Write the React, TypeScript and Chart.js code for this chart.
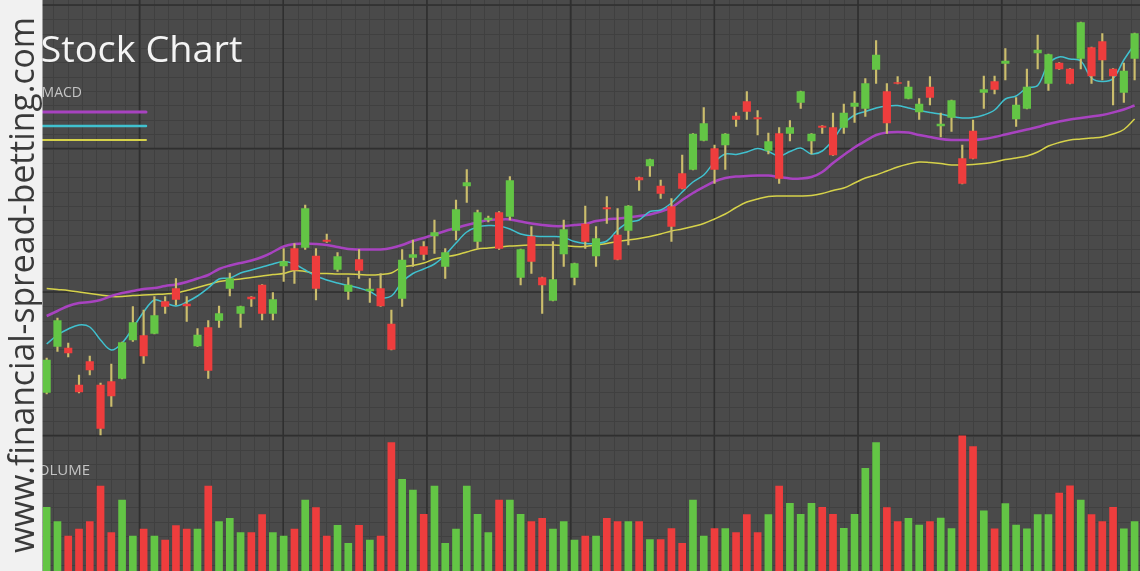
import React, { useEffect, useRef } from 'react';
import { Chart, registerables } from 'chart.js';

Chart.register(...registerables);

// ---- Data ----
const OPEN = [
  71.5, 80.7, 80.4, 73.0, 77.7, 73.0, 73.7, 74.3, 82.0, 82.9,
  83.3, 89.7, 92.3, 89.2, 80.8, 84.5, 85.9, 92.3, 87.3, 90.6,
  93.0, 87.3, 96.8, 100.3, 100.5, 98.8, 102.0, 96.1, 91.7, 98.1,
  91.8, 92.3, 85.2, 90.3, 98.5, 100.7, 102.8, 96.7, 103.9, 112.8,
  101.7, 106.0, 107.5, 106.7, 94.5, 102.7, 94.5, 89.9, 99.2, 94.5,
  105.2, 98.8, 108.5, 103.0, 103.9, 114.5, 116.8, 112.8, 108.7, 115.3,
  116.1, 121.9, 120.3, 121.0, 126.8, 129.7, 126.5, 119.9, 123.3, 123.3,
  129.5, 121.8, 124.8, 124.5, 124.5, 128.7, 128.3, 136.1, 131.7, 133.5,
  130.3, 127.6, 132.6, 124.8, 126.5, 118.3, 123.8, 131.5, 133.7, 137.3,
  126.2, 128.3, 139.4, 133.3, 137.4, 136.2, 138.3, 140.5, 141.7, 136.2,
  131.5, 138.3,
];
const HIGH = [
  78.4, 86.4, 81.4, 75.0, 78.8, 73.4, 77.2, 81.6, 88.7, 88.0,
  90.7, 90.7, 94.3, 90.7, 84.3, 85.9, 88.8, 95.4, 88.8, 90.7,
  93.1, 91.5, 100.3, 101.3, 109.0, 100.3, 103.2, 99.5, 94.5, 100.1,
  94.3, 95.3, 88.0, 100.1, 102.0, 101.7, 106.0, 100.3, 110.0, 116.1,
  108.0, 106.8, 107.7, 114.7, 100.2, 104.7, 94.6, 101.7, 106.0, 97.4,
  108.8, 104.7, 110.7, 108.3, 108.9, 114.6, 118.2, 114.0, 110.3, 119.0,
  123.3, 128.5, 121.0, 123.3, 127.5, 131.7, 127.9, 123.4, 124.5, 125.9,
  131.8, 123.3, 124.9, 127.4, 129.2, 131.7, 134.3, 141.9, 133.3, 134.7,
  133.8, 130.3, 134.7, 127.4, 130.0, 121.0, 126.0, 134.8, 134.8, 140.3,
  130.5, 136.2, 143.0, 139.2, 137.5, 136.3, 145.6, 140.6, 143.3, 136.3,
  137.4, 143.4,
];
const LOW = [
  71.2, 79.7, 78.6, 71.4, 75.0, 63.0, 68.7, 74.2, 81.7, 77.3,
  83.2, 87.3, 89.0, 85.7, 80.7, 74.3, 84.5, 90.8, 84.5, 88.7,
  86.0, 86.0, 93.7, 93.3, 100.1, 90.0, 101.5, 95.7, 90.1, 94.3,
  89.5, 88.7, 80.0, 88.7, 96.7, 98.0, 99.3, 94.3, 102.0, 109.5,
  100.3, 105.6, 100.1, 106.0, 93.0, 95.3, 87.3, 89.8, 96.7, 93.0,
  100.3, 96.7, 105.3, 98.0, 101.0, 111.9, 114.7, 110.3, 101.7, 112.2,
  116.0, 121.8, 113.3, 116.1, 124.7, 126.1, 123.0, 119.2, 113.3, 121.8,
  128.3, 119.2, 123.3, 118.9, 123.3, 125.5, 126.7, 133.3, 123.3, 133.2,
  130.2, 126.1, 129.0, 122.6, 123.7, 113.2, 118.2, 128.3, 131.2, 134.0,
  124.7, 128.2, 136.2, 131.9, 136.1, 133.2, 136.2, 133.3, 134.0, 129.0,
  129.5, 134.0,
];
const CLOSE = [
  78.0, 85.9, 79.4, 71.6, 76.0, 64.3, 70.8, 81.5, 85.5, 78.8,
  86.9, 88.7, 90.1, 88.8, 83.0, 75.9, 87.3, 94.3, 88.7, 90.2,
  87.3, 90.1, 97.7, 96.0, 108.3, 92.3, 101.7, 98.7, 93.0, 95.9,
  92.2, 88.8, 80.1, 98.0, 99.1, 99.1, 103.5, 99.5, 108.1, 113.5,
  107.5, 106.4, 100.3, 113.9, 100.1, 97.7, 93.0, 94.1, 104.1, 97.3,
  101.7, 102.3, 108.2, 98.1, 108.8, 114.0, 118.1, 111.3, 104.7, 112.3,
  123.2, 125.3, 116.1, 123.2, 126.1, 127.7, 126.2, 121.7, 114.3, 124.5,
  131.7, 123.2, 124.5, 119.0, 127.4, 129.4, 133.3, 139.0, 125.4, 133.3,
  132.6, 129.2, 130.5, 125.2, 129.9, 113.3, 118.3, 132.1, 132.1, 137.8,
  129.0, 132.6, 140.0, 139.1, 136.2, 133.3, 145.5, 134.8, 138.0, 134.8,
  135.8, 143.3,
];
const VOLUME = [
  1274, 986, 700, 840, 986, 1700, 766, 1420, 700, 840,
  700, 620, 906, 840, 840, 1700, 986, 1054, 766, 766,
  1130, 766, 700, 840, 1420, 1266, 700, 914, 554, 914,
  620, 700, 2566, 1834, 1620, 1134, 1700, 554, 840, 1700,
  1134, 766, 1420, 1420, 1134, 986, 1054, 840, 986, 620,
  700, 700, 1054, 986, 986, 986, 630, 630, 850, 554,
  1420, 700, 850, 850, 766, 1130, 766, 1130, 1700, 1354,
  1134, 1354, 1274, 1134, 854, 1134, 2054, 2566, 1270, 986,
  1054, 916, 986, 1056, 846, 2704, 2490, 1202, 844, 1346,
  916, 844, 1130, 1130, 1560, 1704, 1416, 1130, 988, 1274,
  844, 988,
];
const MA_MAGENTA = [
  86.8, 87.8, 88.8, 89.4, 89.6, 90.0, 90.8, 91.4, 91.8, 92.2,
  92.4, 92.8, 93.1, 93.6, 94.3, 95.0, 96.2, 96.9, 97.4, 97.9,
  98.6, 99.6, 100.7, 101.2, 101.3, 101.2, 101.0, 100.6, 100.2, 100.1,
  100.1, 100.1, 100.4, 101.0, 101.8, 102.4, 103.1, 103.8, 104.4, 105.0,
  105.5, 106.0, 106.1, 106.1, 105.7, 105.3, 105.0, 104.8, 104.8, 105.0,
  105.2, 105.8, 106.1, 106.3, 106.5, 106.8, 107.1, 107.7, 108.5, 110.0,
  111.4, 112.6, 113.7, 114.4, 114.7, 114.8, 114.9, 114.9, 114.6, 114.3,
  114.3, 114.6, 115.6, 117.4, 119.0, 120.5, 121.8, 123.0, 123.5, 123.6,
  123.5, 123.0, 122.6, 122.2, 122.0, 122.0, 122.0, 122.2, 122.6, 123.1,
  123.6, 124.1, 124.6, 125.2, 125.7, 126.1, 126.4, 126.7, 127.0, 127.5,
  128.1, 128.9,
];
const MA_CYAN = [
  81.2, 83.0, 84.2, 85.0, 84.6, 82.0, 80.0, 81.4, 84.4, 87.6,
  90.0, 89.4, 88.8, 89.6, 90.8, 92.4, 94.2, 94.4, 95.4, 96.0,
  96.6, 97.2, 97.7, 97.2, 96.0, 94.8, 94.0, 93.4, 92.9, 92.4,
  91.7, 90.5, 90.8, 93.6, 95.3, 96.2, 97.2, 99.0, 101.4, 103.6,
  104.6, 104.9, 104.8, 104.2, 103.2, 102.8, 102.7, 102.7, 102.5, 101.7,
  101.3, 101.3, 101.8, 104.0, 105.5, 106.0, 107.7, 108.0, 109.4, 111.6,
  113.6, 115.0, 117.6, 119.2, 119.1, 119.6, 120.3, 119.7, 118.8, 119.7,
  120.4, 119.2, 119.8, 122.0, 125.2, 127.0, 127.7, 128.4, 128.8, 128.9,
  128.4, 127.9, 127.5, 127.2, 126.7, 126.4, 126.5, 127.0, 128.0, 130.2,
  130.8, 132.4, 132.9, 137.2, 138.6, 138.2, 137.8, 134.4, 133.7, 134.3,
  138.0, 141.2,
];
const MA_YELLOW = [
  92.3, 92.1, 91.9, 91.6, 91.3, 91.0, 90.7, 90.7, 90.9, 91.0,
  91.1, 91.2, 91.4, 91.9, 92.5, 93.1, 93.7, 94.0, 94.2, 94.5,
  94.8, 95.1, 95.3, 95.9, 95.7, 95.3, 95.3, 95.2, 95.2, 95.1,
  95.0, 95.1, 95.4, 96.6, 96.9, 97.4, 98.2, 98.6, 99.0, 99.6,
  100.2, 100.4, 100.6, 100.8, 100.9, 101.0, 101.0, 101.0, 100.9, 100.7,
  100.7, 101.0, 101.3, 101.7, 102.0, 102.3, 102.7, 103.2, 103.8, 104.2,
  104.7, 105.3, 106.2, 107.2, 108.5, 109.6, 110.2, 110.7, 110.8, 110.8,
  110.8, 110.9, 111.3, 111.9, 112.4, 113.4, 114.4, 115.0, 115.8, 116.6,
  117.2, 117.6, 117.5, 117.3, 117.0, 117.0, 117.1, 117.3, 117.6, 118.1,
  118.4, 118.8, 119.6, 120.8, 121.5, 122.0, 122.2, 122.4, 122.6, 123.2,
  124.1, 126.2,
];
const DAYS = OPEN.map((_, i) => `Day ${i + 1}`);

const TITLE = 'Stock Chart';
const LEGEND_TITLE = 'MACD';
const VOLUME_TITLE = 'VOLUME';
const WATERMARK = 'www.financial-spread-betting.com';

// ---- Styles ----
const BG = '#4a4a4a';
const MINOR_GRID = '#404040';
const MAJOR_GRID = '#2f2f2f';
const UP = '#63c545';
const DOWN = '#ee3d3d';
const WICK = '#cbbd6c';
const MAGENTA = '#a843c0';
const CYAN = '#40c1cf';
const YELLOW = '#d6d24a';

const W = 1140;
const H = 571;

const backgroundPlugin = {
  id: 'bgGrid',
  beforeDraw(chart: any) {
    const { ctx } = chart;
    ctx.save();
    ctx.fillStyle = BG;
    ctx.fillRect(0, 0, W, H);
    const vx0 = 139.5, vStep = 14.37;
    const hy0 = 435.5, hStep = 14.35;
    // minor grid
    ctx.strokeStyle = MINOR_GRID;
    ctx.lineWidth = 1;
    ctx.beginPath();
    for (let k = -10; k < 80; k++) {
      const x = Math.round(vx0 + k * vStep) + 0.5;
      if (x < 0 || x > W) continue;
      ctx.moveTo(x, 0);
      ctx.lineTo(x, H);
    }
    for (let k = -40; k < 20; k++) {
      const y = Math.round(hy0 + k * hStep) + 0.5;
      if (y < 0 || y > H) continue;
      ctx.moveTo(0, y);
      ctx.lineTo(W, y);
    }
    ctx.stroke();
    // major grid
    ctx.strokeStyle = MAJOR_GRID;
    ctx.lineWidth = 1.6;
    ctx.beginPath();
    for (let k = -1; k < 9; k++) {
      const x = vx0 + k * vStep * 10;
      if (x < 0 || x > W) continue;
      ctx.moveTo(x, 0);
      ctx.lineTo(x, H);
    }
    for (let k = -4; k < 2; k++) {
      const y = hy0 + k * hStep * 10;
      if (y < 0 || y > H) continue;
      ctx.moveTo(0, y);
      ctx.lineTo(W, y);
    }
    ctx.stroke();
    ctx.restore();
  },
};

const overlayPlugin = {
  id: 'overlay',
  afterDraw(chart: any) {
    const { ctx } = chart;
    ctx.save();
    // Title
    ctx.fillStyle = '#f4f4f4';
    ctx.textBaseline = 'alphabetic';
    ctx.textAlign = 'left';
    ctx.font = '36px "Open Sans"';
    const tw = ctx.measureText(TITLE).width;
    ctx.save();
    ctx.translate(40.5, 62);
    ctx.scale(202 / tw, 1);
    ctx.fillText(TITLE, 0, 0);
    ctx.restore();

    // Legend
    ctx.fillStyle = '#c4c4c4';
    ctx.font = '14px "Open Sans"';
    ctx.textAlign = 'right';
    ctx.fillText(LEGEND_TITLE, 82, 97);
    const legend = [
      { c: MAGENTA, y: 112, w: 3 },
      { c: CYAN, y: 126, w: 2.5 },
      { c: YELLOW, y: 140, w: 2 },
    ];
    ctx.lineCap = 'round';
    legend.forEach((l) => {
      ctx.strokeStyle = l.c;
      ctx.lineWidth = l.w;
      ctx.beginPath();
      ctx.moveTo(40, l.y);
      ctx.lineTo(146, l.y);
      ctx.stroke();
    });

    // Volume label
    ctx.fillStyle = '#c4c4c4';
    ctx.font = '15px "Open Sans"';
    ctx.textAlign = 'right';
    ctx.fillText(VOLUME_TITLE, 90, 475);

    // Left watermark band
    ctx.fillStyle = '#f1f1f1';
    ctx.fillRect(0, 0, 42.5, H);
    ctx.fillStyle = '#3a3a3a';
    ctx.font = '34px "Open Sans"';
    ctx.textAlign = 'left';
    const ww = ctx.measureText(WATERMARK).width;
    ctx.save();
    ctx.translate(33.5, 553);
    ctx.rotate(-Math.PI / 2);
    ctx.scale(536 / ww, 1);
    ctx.fillText(WATERMARK, 0, 0);
    ctx.restore();
    ctx.restore();
  },
};

export default function App() {
  const ref = useRef<HTMLCanvasElement>(null);
  useEffect(() => {
    if (!ref.current) return;
    const up = CLOSE.map((c, i) => c >= OPEN[i]);
    const candleColors = up.map((u) => (u ? UP : DOWN));
    const chart = new Chart(ref.current, {
      type: 'bar',
      data: {
        labels: DAYS,
        datasets: [
          {
            type: 'bar',
            label: 'Body',
            data: OPEN.map((o, i) => [o, CLOSE[i]]) as any,
            backgroundColor: candleColors,
            barThickness: 7.5,
            grouped: false,
            yAxisID: 'y',
            order: 1,
          },
          {
            type: 'bar',
            label: 'Wick',
            data: LOW.map((l, i) => [l, HIGH[i]]) as any,
            backgroundColor: WICK,
            barThickness: 1.5,
            grouped: false,
            yAxisID: 'y',
            order: 2,
          },
          {
            type: 'line',
            label: 'MA fast',
            data: MA_CYAN,
            borderColor: CYAN,
            borderWidth: 1.5,
            pointRadius: 0,
            tension: 0.35,
            fill: false,
            yAxisID: 'y',
            order: 3,
          },
          {
            type: 'line',
            label: 'MA mid',
            data: MA_MAGENTA,
            borderColor: MAGENTA,
            borderWidth: 2.5,
            pointRadius: 0,
            tension: 0.35,
            fill: false,
            yAxisID: 'y',
            order: 4,
          },
          {
            type: 'line',
            label: 'MA slow',
            data: MA_YELLOW,
            borderColor: YELLOW,
            borderWidth: 1.5,
            pointRadius: 0,
            tension: 0.35,
            fill: false,
            yAxisID: 'y',
            order: 5,
          },
          {
            type: 'bar',
            label: 'Volume',
            data: VOLUME,
            backgroundColor: candleColors,
            barThickness: 7,
            grouped: false,
            yAxisID: 'yv',
            order: 6,
          },
        ],
      },
      options: {
        responsive: false,
        animation: false,
        devicePixelRatio: 1,
        layout: { padding: { left: 41.3, right: 0, top: 0, bottom: 0 } },
        plugins: {
          legend: { display: false },
          tooltip: { enabled: false },
          title: { display: false },
        },
        scales: {
          x: { type: 'category', offset: true, display: false, grid: { display: false } },
          y: { type: 'linear', min: 35.8, max: 150, display: false },
          yv: { type: 'linear', min: 0, max: 11420, display: false },
        },
      },
      plugins: [backgroundPlugin, overlayPlugin],
    });
    return () => chart.destroy();
  }, []);
  return (
    <div style={{ position: 'absolute', left: 0, top: 0, width: W, height: H, overflow: 'hidden' }}>
      <canvas ref={ref} width={W} height={H} style={{ display: 'block', width: W, height: H }} />
    </div>
  );
}
